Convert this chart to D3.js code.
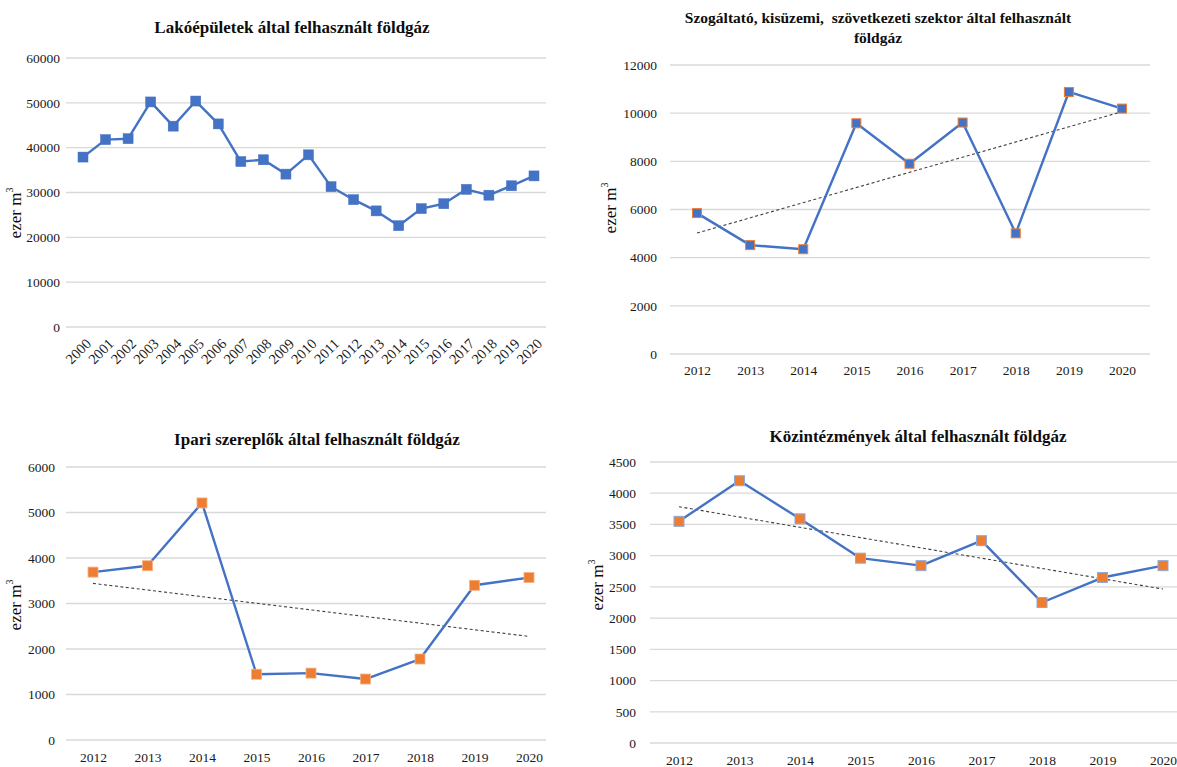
<!DOCTYPE html>
<html>
<head>
<meta charset="utf-8">
<script src="https://cdn.jsdelivr.net/npm/d3@7"></script>
<style>
  body { margin: 0; background: #fff; }
  svg { font-family: "Liberation Serif", "Times New Roman", serif; }
  text { white-space: pre; }
</style>
</head>
<body>
<svg id="chart" width="1177" height="767"></svg>
<script>
// data (ezer m3)
var yearsLong = d3.range(2000, 2021).map(String);
var yearsShort = d3.range(2012, 2021).map(String);

var lakoValues = [37900, 41800, 42000, 50200, 44800, 50400, 45300, 36900, 37300, 34100, 38400,
                  31300, 28400, 25900, 22600, 26400, 27500, 30700, 29400, 31500, 33700];
var szolgValues = [5850, 4520, 4350, 9580, 7900, 9610, 5010, 10880, 10190];
var ipariValues = [3690, 3830, 5210, 1445, 1470, 1340, 1780, 3400, 3570];
var kozValues = [3550, 4200, 3590, 2960, 2840, 3240, 2250, 2650, 2840];

var ticks1 = [0, 10000, 20000, 30000, 40000, 50000, 60000];
var ticks2 = [0, 2000, 4000, 6000, 8000, 10000, 12000];
var ticks3 = [0, 1000, 2000, 3000, 4000, 5000, 6000];
var ticks4 = [0, 500, 1000, 1500, 2000, 2500, 3000, 3500, 4000, 4500];

var blue = "#4472C4", orange = "#ED7D31";

var svg = d3.select("#chart");

function drawChart(c) {
  var g = svg.append("g");

  var x = d3.scalePoint().domain(c.cats).range(c.xr);
  var y = d3.scaleLinear().domain([0, c.ticks[c.ticks.length - 1]]).range(c.yr);

  // gridlines
  g.selectAll(".grid").data(c.ticks).enter().append("line")
      .attr("x1", c.gx[0]).attr("x2", c.gx[1])
      .attr("y1", function(d) { return y(d); })
      .attr("y2", function(d) { return y(d); })
      .attr("stroke", "#d9d9d9")
      .attr("stroke-width", 1.3);

  // y axis labels
  var yAxis = d3.axisLeft(y).tickValues(c.ticks).tickSize(0).tickPadding(0)
      .tickFormat(d3.format("d"));
  var ya = g.append("g").attr("transform", "translate(" + c.ylabX + ",0)").call(yAxis);
  ya.select(".domain").remove();
  ya.selectAll("text").attr("font-size", 13.5).attr("fill", "#1a1a1a")
      .attr("font-family", "Liberation Serif");

  // x axis labels
  var xAxis = d3.axisBottom(x).tickSize(0).tickPadding(0);
  var xa = g.append("g").attr("transform", "translate(0," + c.xlabY + ")").call(xAxis);
  xa.select(".domain").remove();
  xa.selectAll("text").attr("font-size", 13.5).attr("fill", "#1a1a1a")
      .attr("font-family", "Liberation Serif");
  if (c.rotate) {
    xa.selectAll("text")
        .attr("font-size", 14.5)
        .attr("text-anchor", "end")
        .attr("dy", "0.35em")
        .attr("y", 0)
        .attr("transform", "translate(5,4) rotate(-45)");
  }

  // trend line (least squares)
  if (c.trend) {
    var n = c.values.length, mx = (n - 1) / 2, my = d3.mean(c.values);
    var sxy = d3.sum(c.values, function(v, i) { return (i - mx) * (v - my); });
    var sxx = d3.sum(c.values, function(v, i) { return (i - mx) * (i - mx); });
    var slope = sxy / sxx, icpt = my - slope * mx;
    g.append("line")
        .attr("x1", x(c.cats[0])).attr("y1", y(icpt))
        .attr("x2", x(c.cats[n - 1])).attr("y2", y(icpt + slope * (n - 1)))
        .attr("stroke", "#404040")
        .attr("stroke-width", 1.1)
        .attr("stroke-dasharray", "3,2.5");
  }

  var line = d3.line()
      .x(function(d, i) { return x(c.cats[i]); })
      .y(function(d) { return y(d); });

  g.append("path")
      .datum(c.values)
      .attr("d", line)
      .attr("fill", "none")
      .attr("stroke", blue)
      .attr("stroke-width", 2.4)
      .attr("stroke-linejoin", "round");

  var s = c.msize;
  g.selectAll(".mk").data(c.values).enter().append("rect")
      .attr("x", function(d, i) { return x(c.cats[i]) - s / 2; })
      .attr("y", function(d) { return y(d) - s / 2; })
      .attr("width", s).attr("height", s)
      .attr("fill", c.mfill)
      .attr("stroke", c.mstroke)
      .attr("stroke-width", c.mstrokeW);

  // title
  var t = g.append("text")
      .attr("text-anchor", "middle")
      .attr("font-weight", "bold")
      .attr("font-size", c.titleSize)
      .attr("fill", "#0d0d0d");
  c.title.forEach(function(line, i) {
    t.append("tspan").attr("x", c.titleX).attr("y", c.titleY + i * 20).text(line);
  });

  // y title
  var yl = g.append("text")
      .attr("transform", "translate(" + c.ytX + "," + c.ytY + ") rotate(-90)")
      .attr("text-anchor", "middle")
      .attr("font-size", 17)
      .attr("fill", "#0d0d0d");
  yl.append("tspan").text("ezer m");
  yl.append("tspan").attr("font-size", 10).attr("dy", "-0.8em").text("3");
}

drawChart({
  cats: yearsLong, values: lakoValues, ticks: ticks1,
  xr: [83, 534], yr: [327, 58], gx: [66, 546],
  ylabX: 60, xlabY: 337, rotate: true, trend: false,
  msize: 10, mfill: blue, mstroke: blue, mstrokeW: 0.5,
  title: ["Lakóépületek által felhasznált földgáz"], titleX: 292, titleY: 33, titleSize: 17,
  ytX: 21, ytY: 213
});

drawChart({
  cats: yearsShort, values: szolgValues, ticks: ticks2,
  xr: [697, 1122], yr: [354, 65], gx: [670, 1150],
  ylabX: 657, xlabY: 365, rotate: false, trend: true,
  msize: 9, mfill: blue, mstroke: orange, mstrokeW: 1,
  title: ["Szogáltató, kisüzemi,  szövetkezeti szektor által felhasznált", "földgáz"],
  titleX: 878, titleY: 23, titleSize: 15.5,
  ytX: 616, ytY: 208
});

drawChart({
  cats: yearsShort, values: ipariValues, ticks: ticks3,
  xr: [93, 529], yr: [740, 467], gx: [66, 546],
  ylabX: 55, xlabY: 752, rotate: false, trend: true,
  msize: 10, mfill: orange, mstroke: "#F4B183", mstrokeW: 0.8,
  title: ["Ipari szereplők által felhasznált földgáz"], titleX: 317, titleY: 445, titleSize: 17,
  ytX: 21, ytY: 605
});

drawChart({
  cats: yearsShort, values: kozValues, ticks: ticks4,
  xr: [679, 1163], yr: [743, 462], gx: [650, 1177],
  ylabX: 636, xlabY: 755, rotate: false, trend: true,
  msize: 10, mfill: orange, mstroke: "#8FAADC", mstrokeW: 1,
  title: ["Közintézmények által felhasznált földgáz"], titleX: 918, titleY: 442, titleSize: 17,
  ytX: 603, ytY: 585
});
</script>
</body>
</html>
